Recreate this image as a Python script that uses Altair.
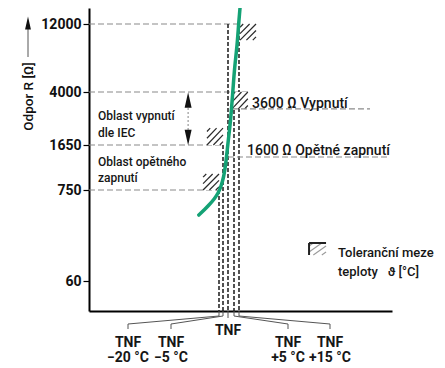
import altair as alt
import numpy as np
import pandas as pd

# ---------------- data ----------------
# resistance levels marked on the y axis (Ω)
r_ticks = [60, 750, 1650, 4000, 12000]
# temperatures relative to TNF (°C) of the dashed verticals
tnf_offsets = [-20, -5, 0, 5, 15]
tnf_line_top = [750, 1650, 12000, 4000, 12000]
tnf_labels = ["TNF\n−20 °C", "TNF\n−5 °C", "TNF", "TNF\n+5 °C", "TNF\n+15 °C"]

# PTC thermistor curve (temperature offset °C, resistance Ω)
curve_t = [-26.2, -24.6, -23.1, -21.5, -20.3, -12.5, -4.5, -2.5, 0.0, 2.1, 3.8, 6.0, 11.0, 15.0, 15.4]
curve_r = [560, 598, 636, 682, 727, 830, 1010, 1250, 1740, 2760, 3870, 6600, 9500, 14000, 22000]

# tolerance boxes
box_t0 = [-24.9, -23.7, 3.3, 15.3]
box_t1 = [-20.0, -5.0, 17.6, 20.0]
box_r0 = [750, 1650, 3250, 10100]
box_r1 = [1070, 2400, 4000, 12000]

# legend swatch
legend_t = [35.6, 40.6]
legend_r = [257, 348]

# dashed guide lines from the y axis
level_r = [12000, 4000, 1650, 750]
level_end_t = [15.0, 17.6, -5.0, -20.0]

# trip / reset annotations
trip_r, trip_start_t = 3250, 3.3
reset_r, reset_start_t = 1410, 0.0
# IEC band arrow
iec_t = -29.5
iec_top_r, iec_bot_r = 3645, 1983
iec_mid_r = [3290, 2315]

# ---------------- scales (schematic, piecewise) ----------------
T_DOM = [-60, -20, -5, 0, 5, 15, 60]
T_RNG = [0, 130, 134, 139, 145, 150, 303]
R_DOM = [10, 60, 750, 1650, 4000, 12000, 20000]
R_RNG = [303, 273, 182, 137, 84, 16, 0]

FONT = "Roboto"
xs = alt.Scale(domain=T_DOM, range=T_RNG, zero=False, nice=False)
ys = alt.Scale(domain=R_DOM, range=R_RNG, zero=False, nice=False)
x_axis = alt.Axis(title=None, labels=False, ticks=False, grid=False,
                  domainColor="#000", domainWidth=2)
y_axis = alt.Axis(values=r_ticks, format="d", title="Odpor R [Ω]", grid=False,
                  domainColor="#000", domainWidth=2, tickColor="#000", tickSize=6,
                  tickWidth=1.2, labelFont=FONT, labelFontSize=14, labelFontWeight="bold",
                  labelColor="#111", labelPadding=2, titleFont=FONT, titleFontSize=13.5,
                  titleFontWeight=500, titleColor="#111", titleAngle=270, titleX=-61,
                  titleY=88, titleAlign="center", titleBaseline="middle")


def X(f):
    return alt.X(f, type="quantitative", scale=xs, axis=x_axis)


def Y(f):
    return alt.Y(f, type="quantitative", scale=ys, axis=y_axis)


# helpers mirroring the piecewise scales (for even hatching)
def t2px(t):
    return float(np.interp(t, T_DOM, T_RNG))


def px2t(p):
    return float(np.interp(p, T_RNG, T_DOM))


def r2px(r):
    return float(np.interp(r, R_DOM, R_RNG))


def px2r(p):
    return float(np.interp(p, R_RNG[::-1], R_DOM[::-1]))


def hatch(t0, t1, r0, r1, n=5):
    x0, x1 = t2px(t0), t2px(t1)
    yb, yt = r2px(r0), r2px(r1)
    rows = []
    for k in range(n):
        c = -1 + 2 * (k + 0.5) / n
        u0, u1 = max(0.0, c), min(1.0, 1.0 + c)
        v0, v1 = u0 - c, u1 - c
        rows.append({"t": px2t(x0 + u0 * (x1 - x0)), "r": px2r(yb + v0 * (yt - yb)),
                     "t2": px2t(x0 + u1 * (x1 - x0)), "r2": px2r(yb + v1 * (yt - yb))})
    return rows


# ---------------- tables ----------------
df_levels = pd.DataFrame({"t0": T_DOM[0], "t1": level_end_t, "r": level_r})
df_tnf = pd.DataFrame({"t": tnf_offsets, "top": tnf_line_top, "bottom": R_DOM[0]})
df_box = pd.DataFrame({"t0": box_t0, "t1": box_t1, "r0": box_r0, "r1": box_r1})
df_curve = pd.DataFrame({"t": curve_t, "r": curve_r})

hrows = []
for a, b, c, d in zip(box_t0, box_t1, box_r0, box_r1):
    hrows += hatch(a, b, c, d)
df_hatch = pd.DataFrame(hrows)
df_lhatch = pd.DataFrame(hatch(legend_t[0], legend_t[1], legend_r[0], legend_r[1], 4))

layers = []
layers.append(alt.Chart(df_levels).mark_rule(color="#8a8a8a", strokeDash=[6, 3], strokeWidth=1.2)
              .encode(x=X("t0"), x2="t1", y=Y("r")))
layers.append(alt.Chart(df_tnf).mark_rule(color="#1a1a1a", strokeDash=[4, 2], strokeWidth=1.5)
              .encode(x=X("t"), y=Y("top"), y2="bottom"))
layers.append(alt.Chart(df_box).mark_rect(fill="white")
              .encode(x=X("t0"), x2="t1", y=Y("r0"), y2="r1"))
layers.append(alt.Chart(df_hatch).mark_rule(color="#2a2a2a", strokeWidth=1.2)
              .encode(x=X("t"), x2="t2", y=Y("r"), y2="r2"))
# underlines of trip / reset texts
layers.append(alt.Chart(pd.DataFrame({"t": [trip_start_t], "r": [trip_r]}))
              .mark_rule(color="#8a8a8a", strokeDash=[6, 3], strokeWidth=1.2)
              .encode(x=X("t"), x2=alt.value(281), y=Y("r")))
layers.append(alt.Chart(pd.DataFrame({"t": [reset_start_t], "r": [reset_r]}))
              .mark_rule(color="#8a8a8a", strokeDash=[6, 3], strokeWidth=1.2)
              .encode(x=X("t"), x2=alt.value(301), y=Y("r")))
# curve
layers.append(alt.Chart(df_curve).mark_line(color="#14a275", strokeWidth=3.5,
                                            interpolate="catmull-rom", strokeCap="round")
              .encode(x=X("t"), y=Y("r"), order=alt.Order("r:Q")))
# IEC double arrow
layers.append(alt.Chart(pd.DataFrame({"t": [iec_t], "r": [iec_mid_r[0]], "r2": [iec_mid_r[1]]}))
              .mark_rule(color="#999", strokeDash=[2, 2], strokeWidth=1.2)
              .encode(x=X("t"), y=Y("r"), y2="r2"))
UP = "M0,-1L-0.45,1L0.45,1Z"
DOWN = "M0,1L-0.45,-1L0.45,-1Z"
layers.append(alt.Chart(pd.DataFrame({"t": [iec_t], "r": [iec_top_r]}))
              .mark_point(shape=UP, filled=True, color="#111", size=240, opacity=1)
              .encode(x=X("t"), y=Y("r")))
layers.append(alt.Chart(pd.DataFrame({"t": [iec_t], "r": [iec_bot_r]}))
              .mark_point(shape=DOWN, filled=True, color="#111", size=240, opacity=1)
              .encode(x=X("t"), y=Y("r")))
# legend swatch
layers.append(alt.Chart(df_lhatch).mark_rule(color="#9a9a9a", strokeWidth=1.1)
              .encode(x=X("t"), x2="t2", y=Y("r"), y2="r2"))
layers.append(alt.Chart(pd.DataFrame({"t": [legend_t[0]], "t2": [legend_t[1]], "r": [legend_r[1]]}))
              .mark_rule(color="#222", strokeWidth=2).encode(x=X("t"), x2="t2", y=Y("r")))
layers.append(alt.Chart(pd.DataFrame({"t": [legend_t[0]], "r": [legend_r[0]], "r2": [legend_r[1]]}))
              .mark_rule(color="#222", strokeWidth=2).encode(x=X("t"), y=Y("r"), y2="r2"))


def txt(s, x, y, size=12.5, weight=500, align="left"):
    return (alt.Chart(pd.DataFrame({"s": [s]}))
            .mark_text(font=FONT, fontSize=size, fontWeight=weight, color="#161616",
                       align=align, baseline="alphabetic", lineBreak="\n", lineHeight=15)
            .encode(x=alt.value(x), y=alt.value(y), text="s:N"))


layers += [
    txt("Oblast vypnutí", 9, 112, 12),
    txt("dle IEC", 9, 129, 12),
    txt("Oblast opětného", 9, 158, 12),
    txt("zapnutí", 9, 174, 12),
    txt("3600 Ω Vypnutí", 163, 100, 14),
    txt("1600 Ω Opětné zapnutí", 158, 147, 14),
    txt("Toleranční meze", 249, 249, 13),
    txt("teploty\u00a0\u00a0\u00a0ϑ [°C]", 249, 268, 13),
]

# y-axis title arrow
layers.append(alt.Chart(pd.DataFrame({"a": [0]})).mark_rule(color="#555", strokeWidth=1)
              .encode(x=alt.value(-61), y=alt.value(21), y2=alt.value(49)))
layers.append(alt.Chart(pd.DataFrame({"a": [0]}))
              .mark_point(shape=UP, filled=True, color="#111", size=170, opacity=1)
              .encode(x=alt.value(-61), y=alt.value(15)))

# bottom leaders and TNF labels (layout positions in px)
label_px = [39, 82, 139, 199, 241]
for t, lab, px in zip(tnf_offsets, tnf_labels, label_px):
    d = pd.DataFrame({"t": [t]})
    if t == 0:
        layers.append(alt.Chart(d).mark_rule(color="#555", strokeWidth=1)
                      .encode(x=X("t"), y=alt.value(303), y2=alt.value(310)))
        layers.append(txt(lab, px, 327, 14, "bold", "center"))
    else:
        layers.append(alt.Chart(d).mark_rule(color="#555", strokeWidth=1)
                      .encode(x=X("t"), y=alt.value(303), y2=alt.value(308)))
        layers.append(alt.Chart(d).mark_rule(color="#555", strokeWidth=1)
                      .encode(x=X("t"), x2=alt.value(px), y=alt.value(308), y2=alt.value(316)))
        layers.append(alt.Chart(d).mark_rule(color="#555", strokeWidth=1)
                      .encode(x=alt.value(px), y=alt.value(316), y2=alt.value(321)))
        layers.append(txt(lab, px, 339, 14, "bold", "center"))

chart = (alt.layer(*layers)
         .properties(width=303, height=303, autosize=alt.AutoSizeParams(type="none"),
                     padding={"left": 81, "top": 0, "right": 45, "bottom": 55})
         .configure_view(stroke=None))

chart.save("out.html", embed_options={"renderer": "svg", "actions": False})
